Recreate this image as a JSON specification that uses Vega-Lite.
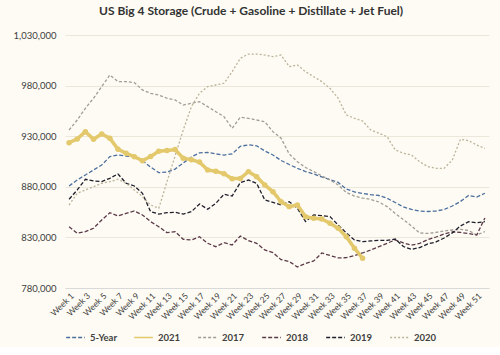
{
  "$schema": "https://vega.github.io/schema/vega-lite/v6.json",
  "width": 424,
  "height": 253,
  "padding": {"left": 13, "top": 5, "right": 18, "bottom": 5},
  "background": "#fdfbf3",
  "title": {"text": "US Big 4 Storage (Crude + Gasoline + Distillate + Jet Fuel)", "fontSize": 12, "font": "Lato", "fontWeight": "bold", "color": "#333333", "anchor": "middle", "frame": "bounds", "offset": 12},
  "config": {
    "view": {"stroke": null},
    "font": "Lato",
    "legend": {"orient": "bottom", "direction": "horizontal", "symbolType": "stroke", "symbolSize": 350, "symbolStrokeWidth": 1.5, "labelFontSize": 9.5, "labelFontWeight": "bold", "labelColor": "#404040", "columnPadding": 14, "offset": 6}
  },
  "data": {"values": [
    {"week": 1, "5-Year": 880800, "2021": 923600, "2017": 936100, "2018": 840600, "2019": 867700, "2020": 862000},
    {"week": 2, "5-Year": 886700, "2021": 927300, "2017": 946000, "2018": 834100, "2019": 876900, "2020": 873600},
    {"week": 3, "5-Year": 891700, "2021": 934500, "2017": 957600, "2018": 835700, "2019": 887400, "2020": 876900},
    {"week": 4, "5-Year": 896600, "2021": 927000, "2017": 967500, "2018": 839000, "2019": 885800, "2020": 880100},
    {"week": 5, "5-Year": 901600, "2021": 932200, "2017": 979000, "2018": 847200, "2019": 885100, "2020": 883500},
    {"week": 6, "5-Year": 909800, "2021": 928000, "2017": 990500, "2018": 854400, "2019": 888400, "2020": 885100},
    {"week": 7, "5-Year": 911400, "2021": 917100, "2017": 983900, "2018": 851200, "2019": 892700, "2020": 887400},
    {"week": 8, "5-Year": 910400, "2021": 913100, "2017": 983900, "2018": 853800, "2019": 883500, "2020": 883500},
    {"week": 9, "5-Year": 909800, "2021": 909800, "2017": 983000, "2018": 856100, "2019": 880800, "2020": 876900},
    {"week": 10, "5-Year": 906000, "2021": 905800, "2017": 975700, "2018": 852200, "2019": 873600, "2020": 870200},
    {"week": 11, "5-Year": 899500, "2021": 910000, "2017": 972400, "2018": 845600, "2019": 855400, "2020": 862000},
    {"week": 12, "5-Year": 894000, "2021": 915200, "2017": 970700, "2018": 840600, "2019": 853100, "2020": 858800},
    {"week": 13, "5-Year": 894500, "2021": 915800, "2017": 967500, "2018": 834700, "2019": 854400, "2020": 884800},
    {"week": 14, "5-Year": 897500, "2021": 916800, "2017": 965800, "2018": 835700, "2019": 854800, "2020": 910500},
    {"week": 15, "5-Year": 903500, "2021": 908300, "2017": 960800, "2018": 828100, "2019": 853100, "2020": 936100},
    {"week": 16, "5-Year": 909500, "2021": 906800, "2017": 962500, "2018": 827500, "2019": 855400, "2020": 959200},
    {"week": 17, "5-Year": 913500, "2021": 904400, "2017": 964100, "2018": 830700, "2019": 863000, "2020": 972400},
    {"week": 18, "5-Year": 914000, "2021": 896600, "2017": 959200, "2018": 824200, "2019": 857800, "2020": 979000},
    {"week": 19, "5-Year": 912500, "2021": 895300, "2017": 954200, "2018": 820800, "2019": 863700, "2020": 980600},
    {"week": 20, "5-Year": 911400, "2021": 893000, "2017": 949300, "2018": 824800, "2019": 872600, "2020": 982300},
    {"week": 21, "5-Year": 912500, "2021": 888000, "2017": 937800, "2018": 822500, "2019": 870900, "2020": 993700},
    {"week": 22, "5-Year": 920000, "2021": 888300, "2017": 948700, "2018": 831400, "2019": 884100, "2020": 1007000},
    {"week": 23, "5-Year": 921500, "2021": 895000, "2017": 947700, "2018": 826800, "2019": 886700, "2020": 1011200},
    {"week": 24, "5-Year": 920500, "2021": 890000, "2017": 946000, "2018": 824200, "2019": 883500, "2020": 1011200},
    {"week": 25, "5-Year": 915500, "2021": 881800, "2017": 944300, "2018": 817600, "2019": 867000, "2020": 1010200},
    {"week": 26, "5-Year": 911400, "2021": 875200, "2017": 934500, "2018": 814900, "2019": 864700, "2020": 1008600},
    {"week": 27, "5-Year": 906000, "2021": 865300, "2017": 928000, "2018": 808000, "2019": 862000, "2020": 1010200},
    {"week": 28, "5-Year": 902000, "2021": 860400, "2017": 912400, "2018": 806200, "2019": 865300, "2020": 998700},
    {"week": 29, "5-Year": 898300, "2021": 862000, "2017": 904800, "2018": 800800, "2019": 858800, "2020": 1000400},
    {"week": 30, "5-Year": 895100, "2021": 850500, "2017": 899100, "2018": 804200, "2019": 845600, "2020": 993700},
    {"week": 31, "5-Year": 892700, "2021": 848900, "2017": 895100, "2018": 806700, "2019": 852200, "2020": 988800},
    {"week": 32, "5-Year": 889700, "2021": 848200, "2017": 890700, "2018": 814600, "2019": 851500, "2020": 983900},
    {"week": 33, "5-Year": 887200, "2021": 844000, "2017": 886700, "2018": 812100, "2019": 850500, "2020": 977300},
    {"week": 34, "5-Year": 884300, "2021": 839000, "2017": 881800, "2018": 809700, "2019": 842300, "2020": 967500},
    {"week": 35, "5-Year": 877900, "2021": 830700, "2017": 874400, "2018": 810000, "2019": 834400, "2020": 951000},
    {"week": 36, "5-Year": 874900, "2021": 819300, "2017": 870900, "2018": 812100, "2019": 827500, "2020": 947700},
    {"week": 37, "5-Year": 873400, "2021": 809400, "2017": 868900, "2018": 814600, "2019": 825800, "2020": 945000},
    {"week": 38, "5-Year": 872200, "2021": null, "2017": 867500, "2018": 817600, "2019": 826500, "2020": 936100},
    {"week": 39, "5-Year": 871400, "2021": null, "2017": 865000, "2018": 820800, "2019": 827000, "2020": 932900},
    {"week": 40, "5-Year": 868700, "2021": null, "2017": 860400, "2018": 824200, "2019": 827000, "2020": 929500},
    {"week": 41, "5-Year": 864500, "2021": null, "2017": 853600, "2018": 827500, "2019": 828400, "2020": 916400},
    {"week": 42, "5-Year": 860100, "2021": null, "2017": 847700, "2018": 824500, "2019": 821000, "2020": 913100},
    {"week": 43, "5-Year": 857600, "2021": null, "2017": 841300, "2018": 822300, "2019": 818200, "2020": 911400},
    {"week": 44, "5-Year": 856100, "2021": null, "2017": 834400, "2018": 824200, "2019": 820000, "2020": 904800},
    {"week": 45, "5-Year": 855600, "2021": null, "2017": 833900, "2018": 827800, "2019": 823500, "2020": 899900},
    {"week": 46, "5-Year": 856100, "2021": null, "2017": 834900, "2018": 830400, "2019": 825500, "2020": 898300},
    {"week": 47, "5-Year": 857600, "2021": null, "2017": 836400, "2018": 833400, "2019": 829400, "2020": 898300},
    {"week": 48, "5-Year": 861000, "2021": null, "2017": 837300, "2018": 835400, "2019": 834400, "2020": 906500},
    {"week": 49, "5-Year": 865500, "2021": null, "2017": 838000, "2018": 834900, "2019": 841300, "2020": 927000},
    {"week": 50, "5-Year": 871400, "2021": null, "2017": 836800, "2018": 833900, "2019": 845500, "2020": 925600},
    {"week": 51, "5-Year": 869900, "2021": null, "2017": 832400, "2018": 832400, "2019": 844500, "2020": 921300},
    {"week": 52, "5-Year": 873600, "2021": null, "2017": 835700, "2018": 849200, "2019": 845500, "2020": 918000}
  ]},
  "transform": [{"fold": ["5-Year", "2021", "2017", "2018", "2019", "2020"], "as": ["series", "value"]}],
  "encoding": {
    "x": {"field": "week", "type": "quantitative", "scale": {"domain": [0.5, 52.5], "nice": false, "zero": false},
      "axis": {"values": [1,3,5,7,9,11,13,15,17,19,21,23,25,27,29,31,33,35,37,39,41,43,45,47,49,51], "labelExpr": "'Week ' + datum.value", "labelAngle": -45, "labelOverlap": false, "title": null, "grid": false, "ticks": false, "domainColor": "#d9d9d9", "labelFontSize": 8.5, "labelColor": "#404040", "labelPadding": 3}},
    "y": {"field": "value", "type": "quantitative", "scale": {"domain": [780000, 1030000], "nice": false, "zero": false},
      "axis": {"values": [780000, 830000, 880000, 930000, 980000, 1030000], "format": ",d", "title": null, "domain": false, "ticks": false, "gridColor": "#ebe7da", "labelFontSize": 9.5, "labelColor": "#404040", "labelPadding": 9, "minExtent": 45, "maxExtent": 45}},
    "color": {"field": "series", "type": "nominal", "sort": ["5-Year", "2021", "2017", "2018", "2019", "2020"],
      "scale": {"domain": ["5-Year", "2021", "2017", "2018", "2019", "2020"], "range": ["#4d6f9f", "#e3c86c", "#a19d94", "#5b3a48", "#1e1e2c", "#bdb29a"]},
      "legend": {"title": null}},
    "strokeDash": {"field": "series", "type": "nominal", "sort": ["5-Year", "2021", "2017", "2018", "2019", "2020"],
      "scale": {"domain": ["5-Year", "2021", "2017", "2018", "2019", "2020"], "range": [[4, 2], [1, 0], [3, 2], [4, 2], [4, 2], [2, 2]]},
      "legend": {"title": null}}
  },
  "layer": [
    {
      "transform": [{"filter": "datum.series !== '2021'"}],
      "mark": {"type": "line", "strokeCap": "butt", "strokeWidth": 1.3}
    },
    {
      "transform": [{"filter": "datum.series === '2021'"}],
      "mark": {"type": "line", "strokeCap": "butt", "strokeWidth": 3.5}
    },
    {
      "transform": [{"filter": "datum.series === '2021'"}],
      "mark": {"type": "point", "filled": true, "size": 30, "opacity": 1, "color": "#dcc062"},
      "encoding": {"strokeDash": null}
    }
  ]
}
